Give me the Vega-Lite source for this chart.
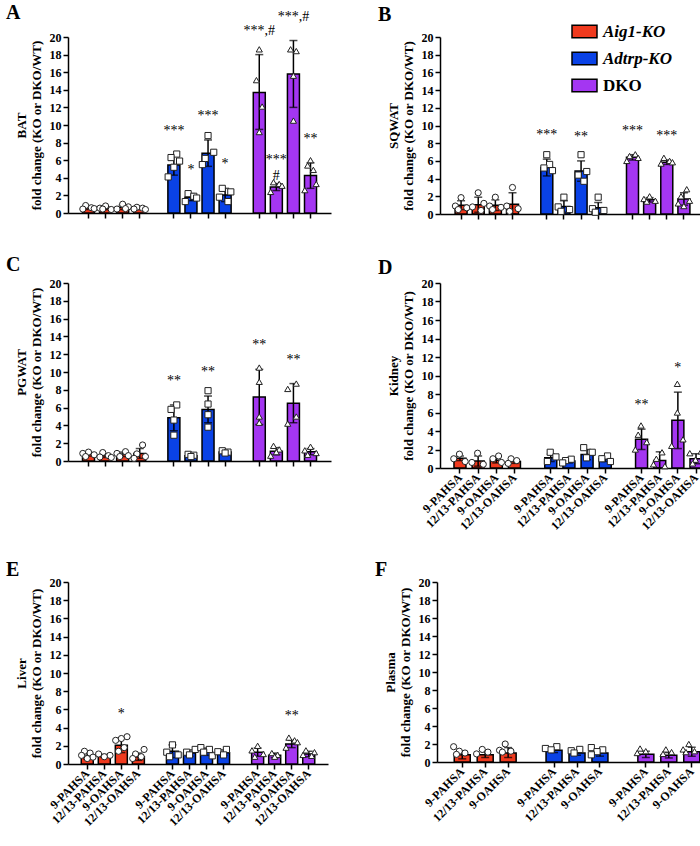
{
"$schema": "https://vega.github.io/schema/vega-lite/v6.json",
"background": "white",
"padding": {"left": 6, "top": 2, "right": 0, "bottom": 0},
"autosize": {"type": "pad"},
"datasets": {
"bars": [
{"p":"A","g":"Aig1-KO","k":"Aig1-KO|9-PAHSA","m":0.6,"lo":0.4,"hi":0.8,"sig":""},
{"p":"A","g":"Aig1-KO","k":"Aig1-KO|12/13-PAHSA","m":0.55,"lo":0.38,"hi":0.72,"sig":""},
{"p":"A","g":"Aig1-KO","k":"Aig1-KO|9-OAHSA","m":0.65,"lo":0.4,"hi":0.9,"sig":""},
{"p":"A","g":"Aig1-KO","k":"Aig1-KO|12/13-OAHSA","m":0.5,"lo":0.4,"hi":0.6,"sig":""},
{"p":"A","g":"Adtrp-KO","k":"Adtrp-KO|9-PAHSA","m":5.45,"lo":4.3,"hi":6.6,"sig":"***"},
{"p":"A","g":"Adtrp-KO","k":"Adtrp-KO|12/13-PAHSA","m":1.8,"lo":1.4,"hi":2.2,"sig":"*"},
{"p":"A","g":"Adtrp-KO","k":"Adtrp-KO|9-OAHSA","m":6.8,"lo":5.3,"hi":8.3,"sig":"***"},
{"p":"A","g":"Adtrp-KO","k":"Adtrp-KO|12/13-OAHSA","m":2.05,"lo":1.3,"hi":2.8,"sig":"*"},
{"p":"A","g":"DKO","k":"DKO|9-PAHSA","m":13.7,"lo":9.5,"hi":18.0,"sig":"***,#"},
{"p":"A","g":"DKO","k":"DKO|12/13-PAHSA","m":2.95,"lo":2.55,"hi":3.35,"sig":"***\n#"},
{"p":"A","g":"DKO","k":"DKO|9-OAHSA","m":15.8,"lo":12.0,"hi":19.6,"sig":"***,#"},
{"p":"A","g":"DKO","k":"DKO|12/13-OAHSA","m":4.25,"lo":2.8,"hi":5.7,"sig":"**"},
{"p":"B","g":"Aig1-KO","k":"Aig1-KO|9-PAHSA","m":1.0,"lo":0.5,"hi":1.5,"sig":""},
{"p":"B","g":"Aig1-KO","k":"Aig1-KO|12/13-PAHSA","m":1.05,"lo":0.2,"hi":1.9,"sig":""},
{"p":"B","g":"Aig1-KO","k":"Aig1-KO|9-OAHSA","m":1.0,"lo":0.4,"hi":1.6,"sig":""},
{"p":"B","g":"Aig1-KO","k":"Aig1-KO|12/13-OAHSA","m":1.1,"lo":0.0,"hi":2.4,"sig":""},
{"p":"B","g":"Adtrp-KO","k":"Adtrp-KO|9-PAHSA","m":5.25,"lo":4.3,"hi":6.2,"sig":"***"},
{"p":"B","g":"Adtrp-KO","k":"Adtrp-KO|12/13-PAHSA","m":0.85,"lo":0.2,"hi":1.5,"sig":""},
{"p":"B","g":"Adtrp-KO","k":"Adtrp-KO|9-OAHSA","m":4.85,"lo":3.7,"hi":6.0,"sig":"**"},
{"p":"B","g":"Adtrp-KO","k":"Adtrp-KO|12/13-OAHSA","m":0.7,"lo":0.1,"hi":1.3,"sig":""},
{"p":"B","g":"DKO","k":"DKO|9-PAHSA","m":6.4,"lo":6.1,"hi":6.7,"sig":"***"},
{"p":"B","g":"DKO","k":"DKO|12/13-PAHSA","m":1.6,"lo":1.35,"hi":1.85,"sig":""},
{"p":"B","g":"DKO","k":"DKO|9-OAHSA","m":5.85,"lo":5.6,"hi":6.1,"sig":"***"},
{"p":"B","g":"DKO","k":"DKO|12/13-OAHSA","m":1.7,"lo":1.0,"hi":2.4,"sig":""},
{"p":"C","g":"Aig1-KO","k":"Aig1-KO|9-PAHSA","m":0.75,"lo":0.55,"hi":0.95,"sig":""},
{"p":"C","g":"Aig1-KO","k":"Aig1-KO|12/13-PAHSA","m":0.6,"lo":0.4,"hi":0.8,"sig":""},
{"p":"C","g":"Aig1-KO","k":"Aig1-KO|9-OAHSA","m":0.75,"lo":0.5,"hi":1.0,"sig":""},
{"p":"C","g":"Aig1-KO","k":"Aig1-KO|12/13-OAHSA","m":0.85,"lo":0.3,"hi":1.4,"sig":""},
{"p":"C","g":"Adtrp-KO","k":"Adtrp-KO|9-PAHSA","m":4.85,"lo":3.4,"hi":6.3,"sig":"**"},
{"p":"C","g":"Adtrp-KO","k":"Adtrp-KO|12/13-PAHSA","m":0.6,"lo":0.45,"hi":0.75,"sig":""},
{"p":"C","g":"Adtrp-KO","k":"Adtrp-KO|9-OAHSA","m":5.8,"lo":4.3,"hi":7.3,"sig":"**"},
{"p":"C","g":"Adtrp-KO","k":"Adtrp-KO|12/13-OAHSA","m":1.0,"lo":0.85,"hi":1.15,"sig":""},
{"p":"C","g":"DKO","k":"DKO|9-PAHSA","m":7.2,"lo":4.1,"hi":10.3,"sig":"**"},
{"p":"C","g":"DKO","k":"DKO|12/13-PAHSA","m":1.1,"lo":0.7,"hi":1.5,"sig":""},
{"p":"C","g":"DKO","k":"DKO|9-OAHSA","m":6.5,"lo":4.3,"hi":8.7,"sig":"**"},
{"p":"C","g":"DKO","k":"DKO|12/13-OAHSA","m":1.05,"lo":0.7,"hi":1.4,"sig":""},
{"p":"D","g":"Aig1-KO","k":"Aig1-KO|9-PAHSA","m":1.05,"lo":0.8,"hi":1.3,"sig":""},
{"p":"D","g":"Aig1-KO","k":"Aig1-KO|12/13-PAHSA","m":0.75,"lo":0.2,"hi":1.3,"sig":""},
{"p":"D","g":"Aig1-KO","k":"Aig1-KO|9-OAHSA","m":0.85,"lo":0.55,"hi":1.15,"sig":""},
{"p":"D","g":"Aig1-KO","k":"Aig1-KO|12/13-OAHSA","m":0.7,"lo":0.5,"hi":0.9,"sig":""},
{"p":"D","g":"Adtrp-KO","k":"Adtrp-KO|9-PAHSA","m":1.1,"lo":0.7,"hi":1.5,"sig":""},
{"p":"D","g":"Adtrp-KO","k":"Adtrp-KO|12/13-PAHSA","m":0.75,"lo":0.55,"hi":0.95,"sig":""},
{"p":"D","g":"Adtrp-KO","k":"Adtrp-KO|9-OAHSA","m":1.45,"lo":0.9,"hi":2.0,"sig":""},
{"p":"D","g":"Adtrp-KO","k":"Adtrp-KO|12/13-OAHSA","m":1.0,"lo":0.7,"hi":1.3,"sig":""},
{"p":"D","g":"DKO","k":"DKO|9-PAHSA","m":3.1,"lo":2.0,"hi":4.2,"sig":"**"},
{"p":"D","g":"DKO","k":"DKO|12/13-PAHSA","m":0.8,"lo":0.0,"hi":1.75,"sig":""},
{"p":"D","g":"DKO","k":"DKO|9-OAHSA","m":5.15,"lo":2.1,"hi":8.2,"sig":"*"},
{"p":"D","g":"DKO","k":"DKO|12/13-OAHSA","m":1.0,"lo":0.45,"hi":1.55,"sig":""},
{"p":"E","g":"Aig1-KO","k":"Aig1-KO|9-PAHSA","m":0.85,"lo":0.55,"hi":1.15,"sig":""},
{"p":"E","g":"Aig1-KO","k":"Aig1-KO|12/13-PAHSA","m":0.9,"lo":0.75,"hi":1.05,"sig":""},
{"p":"E","g":"Aig1-KO","k":"Aig1-KO|9-OAHSA","m":2.05,"lo":1.25,"hi":2.85,"sig":"*"},
{"p":"E","g":"Aig1-KO","k":"Aig1-KO|12/13-OAHSA","m":0.8,"lo":0.4,"hi":1.2,"sig":""},
{"p":"E","g":"Adtrp-KO","k":"Adtrp-KO|9-PAHSA","m":1.4,"lo":0.7,"hi":2.1,"sig":""},
{"p":"E","g":"Adtrp-KO","k":"Adtrp-KO|12/13-PAHSA","m":1.2,"lo":0.85,"hi":1.55,"sig":""},
{"p":"E","g":"Adtrp-KO","k":"Adtrp-KO|9-OAHSA","m":1.35,"lo":0.95,"hi":1.75,"sig":""},
{"p":"E","g":"Adtrp-KO","k":"Adtrp-KO|12/13-OAHSA","m":1.25,"lo":0.95,"hi":1.55,"sig":""},
{"p":"E","g":"DKO","k":"DKO|9-PAHSA","m":1.3,"lo":0.85,"hi":1.75,"sig":""},
{"p":"E","g":"DKO","k":"DKO|12/13-PAHSA","m":0.95,"lo":0.7,"hi":1.2,"sig":""},
{"p":"E","g":"DKO","k":"DKO|9-OAHSA","m":2.2,"lo":1.8,"hi":2.6,"sig":"**"},
{"p":"E","g":"DKO","k":"DKO|12/13-OAHSA","m":1.1,"lo":0.8,"hi":1.4,"sig":""},
{"p":"F","g":"Aig1-KO","k":"Aig1-KO|9-PAHSA","m":0.8,"lo":0.35,"hi":1.25,"sig":""},
{"p":"F","g":"Aig1-KO","k":"Aig1-KO|12/13-PAHSA","m":0.8,"lo":0.5,"hi":1.1,"sig":""},
{"p":"F","g":"Aig1-KO","k":"Aig1-KO|9-OAHSA","m":1.0,"lo":0.5,"hi":1.6,"sig":""},
{"p":"F","g":"Adtrp-KO","k":"Adtrp-KO|9-PAHSA","m":1.3,"lo":1.05,"hi":1.55,"sig":""},
{"p":"F","g":"Adtrp-KO","k":"Adtrp-KO|12/13-PAHSA","m":1.0,"lo":0.75,"hi":1.25,"sig":""},
{"p":"F","g":"Adtrp-KO","k":"Adtrp-KO|9-OAHSA","m":1.0,"lo":0.65,"hi":1.35,"sig":""},
{"p":"F","g":"DKO","k":"DKO|9-PAHSA","m":0.85,"lo":0.5,"hi":1.2,"sig":""},
{"p":"F","g":"DKO","k":"DKO|12/13-PAHSA","m":0.75,"lo":0.45,"hi":1.05,"sig":""},
{"p":"F","g":"DKO","k":"DKO|9-OAHSA","m":1.15,"lo":0.65,"hi":1.65,"sig":""}
],
"pts": [
{"p":"A","g":"Aig1-KO","k":"Aig1-KO|9-PAHSA","r":2,"v":0.85},{"p":"A","g":"Aig1-KO","k":"Aig1-KO|9-PAHSA","r":4,"v":0.6},{"p":"A","g":"Aig1-KO","k":"Aig1-KO|9-PAHSA","r":1,"v":0.45},{"p":"A","g":"Aig1-KO","k":"Aig1-KO|9-PAHSA","r":5,"v":0.5},
{"p":"A","g":"Aig1-KO","k":"Aig1-KO|12/13-PAHSA","r":3,"v":0.8},{"p":"A","g":"Aig1-KO","k":"Aig1-KO|12/13-PAHSA","r":1,"v":0.55},{"p":"A","g":"Aig1-KO","k":"Aig1-KO|12/13-PAHSA","r":5,"v":0.4},{"p":"A","g":"Aig1-KO","k":"Aig1-KO|12/13-PAHSA","r":2,"v":0.45},
{"p":"A","g":"Aig1-KO","k":"Aig1-KO|9-OAHSA","r":3,"v":1.0},{"p":"A","g":"Aig1-KO","k":"Aig1-KO|9-OAHSA","r":5,"v":0.7},{"p":"A","g":"Aig1-KO","k":"Aig1-KO|9-OAHSA","r":1,"v":0.45},{"p":"A","g":"Aig1-KO","k":"Aig1-KO|9-OAHSA","r":4,"v":0.5},
{"p":"A","g":"Aig1-KO","k":"Aig1-KO|12/13-OAHSA","r":2,"v":0.65},{"p":"A","g":"Aig1-KO","k":"Aig1-KO|12/13-OAHSA","r":4,"v":0.55},{"p":"A","g":"Aig1-KO","k":"Aig1-KO|12/13-OAHSA","r":1,"v":0.45},{"p":"A","g":"Aig1-KO","k":"Aig1-KO|12/13-OAHSA","r":5,"v":0.4},
{"p":"A","g":"Adtrp-KO","k":"Adtrp-KO|9-PAHSA","r":4,"v":6.7},{"p":"A","g":"Adtrp-KO","k":"Adtrp-KO|9-PAHSA","r":2,"v":6.3},{"p":"A","g":"Adtrp-KO","k":"Adtrp-KO|9-PAHSA","r":5,"v":5.9},{"p":"A","g":"Adtrp-KO","k":"Adtrp-KO|9-PAHSA","r":3,"v":5.2},{"p":"A","g":"Adtrp-KO","k":"Adtrp-KO|9-PAHSA","r":1,"v":4.1},
{"p":"A","g":"Adtrp-KO","k":"Adtrp-KO|12/13-PAHSA","r":2,"v":2.2},{"p":"A","g":"Adtrp-KO","k":"Adtrp-KO|12/13-PAHSA","r":4,"v":1.9},{"p":"A","g":"Adtrp-KO","k":"Adtrp-KO|12/13-PAHSA","r":5,"v":1.7},{"p":"A","g":"Adtrp-KO","k":"Adtrp-KO|12/13-PAHSA","r":1,"v":1.3},
{"p":"A","g":"Adtrp-KO","k":"Adtrp-KO|9-OAHSA","r":3,"v":8.8},{"p":"A","g":"Adtrp-KO","k":"Adtrp-KO|9-OAHSA","r":5,"v":6.9},{"p":"A","g":"Adtrp-KO","k":"Adtrp-KO|9-OAHSA","r":2,"v":6.2},{"p":"A","g":"Adtrp-KO","k":"Adtrp-KO|9-OAHSA","r":1,"v":5.5},
{"p":"A","g":"Adtrp-KO","k":"Adtrp-KO|12/13-OAHSA","r":2,"v":2.8},{"p":"A","g":"Adtrp-KO","k":"Adtrp-KO|12/13-OAHSA","r":5,"v":2.4},{"p":"A","g":"Adtrp-KO","k":"Adtrp-KO|12/13-OAHSA","r":1,"v":1.8},{"p":"A","g":"Adtrp-KO","k":"Adtrp-KO|12/13-OAHSA","r":4,"v":1.3},
{"p":"A","g":"DKO","k":"DKO|9-PAHSA","r":3,"v":18.6},{"p":"A","g":"DKO","k":"DKO|9-PAHSA","r":2,"v":15.1},{"p":"A","g":"DKO","k":"DKO|9-PAHSA","r":4,"v":12.1},{"p":"A","g":"DKO","k":"DKO|9-PAHSA","r":3,"v":9.2},
{"p":"A","g":"DKO","k":"DKO|12/13-PAHSA","r":2,"v":3.5},{"p":"A","g":"DKO","k":"DKO|12/13-PAHSA","r":4,"v":3.3},{"p":"A","g":"DKO","k":"DKO|12/13-PAHSA","r":5,"v":3.1},{"p":"A","g":"DKO","k":"DKO|12/13-PAHSA","r":1,"v":2.4},
{"p":"A","g":"DKO","k":"DKO|9-OAHSA","r":2,"v":18.6},{"p":"A","g":"DKO","k":"DKO|9-OAHSA","r":4,"v":18.4},{"p":"A","g":"DKO","k":"DKO|9-OAHSA","r":3,"v":15.6},{"p":"A","g":"DKO","k":"DKO|9-OAHSA","r":3,"v":10.5},
{"p":"A","g":"DKO","k":"DKO|12/13-OAHSA","r":3,"v":6.0},{"p":"A","g":"DKO","k":"DKO|12/13-OAHSA","r":2,"v":5.4},{"p":"A","g":"DKO","k":"DKO|12/13-OAHSA","r":4,"v":4.9},{"p":"A","g":"DKO","k":"DKO|12/13-OAHSA","r":5,"v":3.3},{"p":"A","g":"DKO","k":"DKO|12/13-OAHSA","r":1,"v":2.6},
{"p":"B","g":"Aig1-KO","k":"Aig1-KO|9-PAHSA","r":3,"v":1.85},{"p":"B","g":"Aig1-KO","k":"Aig1-KO|9-PAHSA","r":1,"v":0.9},{"p":"B","g":"Aig1-KO","k":"Aig1-KO|9-PAHSA","r":5,"v":0.7},{"p":"B","g":"Aig1-KO","k":"Aig1-KO|9-PAHSA","r":2,"v":0.5},
{"p":"B","g":"Aig1-KO","k":"Aig1-KO|12/13-PAHSA","r":3,"v":2.4},{"p":"B","g":"Aig1-KO","k":"Aig1-KO|12/13-PAHSA","r":5,"v":1.2},{"p":"B","g":"Aig1-KO","k":"Aig1-KO|12/13-PAHSA","r":1,"v":0.8},{"p":"B","g":"Aig1-KO","k":"Aig1-KO|12/13-PAHSA","r":4,"v":0.4},
{"p":"B","g":"Aig1-KO","k":"Aig1-KO|9-OAHSA","r":3,"v":1.9},{"p":"B","g":"Aig1-KO","k":"Aig1-KO|9-OAHSA","r":1,"v":0.9},{"p":"B","g":"Aig1-KO","k":"Aig1-KO|9-OAHSA","r":5,"v":0.75},{"p":"B","g":"Aig1-KO","k":"Aig1-KO|9-OAHSA","r":2,"v":0.5},
{"p":"B","g":"Aig1-KO","k":"Aig1-KO|12/13-OAHSA","r":3,"v":3.0},{"p":"B","g":"Aig1-KO","k":"Aig1-KO|12/13-OAHSA","r":1,"v":0.9},{"p":"B","g":"Aig1-KO","k":"Aig1-KO|12/13-OAHSA","r":5,"v":0.6},{"p":"B","g":"Aig1-KO","k":"Aig1-KO|12/13-OAHSA","r":2,"v":0.3},
{"p":"B","g":"Adtrp-KO","k":"Adtrp-KO|9-PAHSA","r":3,"v":6.7},{"p":"B","g":"Adtrp-KO","k":"Adtrp-KO|9-PAHSA","r":4,"v":5.6},{"p":"B","g":"Adtrp-KO","k":"Adtrp-KO|9-PAHSA","r":2,"v":5.2},{"p":"B","g":"Adtrp-KO","k":"Adtrp-KO|9-PAHSA","r":5,"v":4.9},
{"p":"B","g":"Adtrp-KO","k":"Adtrp-KO|12/13-PAHSA","r":3,"v":1.9},{"p":"B","g":"Adtrp-KO","k":"Adtrp-KO|12/13-PAHSA","r":1,"v":0.8},{"p":"B","g":"Adtrp-KO","k":"Adtrp-KO|12/13-PAHSA","r":5,"v":0.5},{"p":"B","g":"Adtrp-KO","k":"Adtrp-KO|12/13-PAHSA","r":2,"v":0.3},
{"p":"B","g":"Adtrp-KO","k":"Adtrp-KO|9-OAHSA","r":3,"v":6.7},{"p":"B","g":"Adtrp-KO","k":"Adtrp-KO|9-OAHSA","r":5,"v":4.8},{"p":"B","g":"Adtrp-KO","k":"Adtrp-KO|9-OAHSA","r":2,"v":4.4},{"p":"B","g":"Adtrp-KO","k":"Adtrp-KO|9-OAHSA","r":4,"v":3.7},
{"p":"B","g":"Adtrp-KO","k":"Adtrp-KO|12/13-OAHSA","r":3,"v":1.9},{"p":"B","g":"Adtrp-KO","k":"Adtrp-KO|12/13-OAHSA","r":1,"v":0.6},{"p":"B","g":"Adtrp-KO","k":"Adtrp-KO|12/13-OAHSA","r":5,"v":0.4},{"p":"B","g":"Adtrp-KO","k":"Adtrp-KO|12/13-OAHSA","r":2,"v":0.2},
{"p":"B","g":"DKO","k":"DKO|9-PAHSA","r":4,"v":6.75},{"p":"B","g":"DKO","k":"DKO|9-PAHSA","r":2,"v":6.55},{"p":"B","g":"DKO","k":"DKO|9-PAHSA","r":5,"v":6.35},{"p":"B","g":"DKO","k":"DKO|9-PAHSA","r":1,"v":6.0},
{"p":"B","g":"DKO","k":"DKO|12/13-PAHSA","r":3,"v":2.0},{"p":"B","g":"DKO","k":"DKO|12/13-PAHSA","r":1,"v":1.7},{"p":"B","g":"DKO","k":"DKO|12/13-PAHSA","r":5,"v":1.5},{"p":"B","g":"DKO","k":"DKO|12/13-PAHSA","r":2,"v":1.4},
{"p":"B","g":"DKO","k":"DKO|9-OAHSA","r":2,"v":6.35},{"p":"B","g":"DKO","k":"DKO|9-OAHSA","r":4,"v":6.0},{"p":"B","g":"DKO","k":"DKO|9-OAHSA","r":5,"v":5.85},{"p":"B","g":"DKO","k":"DKO|9-OAHSA","r":1,"v":5.7},
{"p":"B","g":"DKO","k":"DKO|12/13-OAHSA","r":4,"v":2.8},{"p":"B","g":"DKO","k":"DKO|12/13-OAHSA","r":2,"v":2.0},{"p":"B","g":"DKO","k":"DKO|12/13-OAHSA","r":5,"v":1.5},{"p":"B","g":"DKO","k":"DKO|12/13-OAHSA","r":1,"v":1.2},{"p":"B","g":"DKO","k":"DKO|12/13-OAHSA","r":3,"v":0.9},
{"p":"C","g":"Aig1-KO","k":"Aig1-KO|9-PAHSA","r":3,"v":1.0},{"p":"C","g":"Aig1-KO","k":"Aig1-KO|9-PAHSA","r":1,"v":0.85},{"p":"C","g":"Aig1-KO","k":"Aig1-KO|9-PAHSA","r":5,"v":0.7},{"p":"C","g":"Aig1-KO","k":"Aig1-KO|9-PAHSA","r":2,"v":0.5},
{"p":"C","g":"Aig1-KO","k":"Aig1-KO|12/13-PAHSA","r":2,"v":0.95},{"p":"C","g":"Aig1-KO","k":"Aig1-KO|12/13-PAHSA","r":4,"v":0.6},{"p":"C","g":"Aig1-KO","k":"Aig1-KO|12/13-PAHSA","r":1,"v":0.45},{"p":"C","g":"Aig1-KO","k":"Aig1-KO|12/13-PAHSA","r":5,"v":0.4},
{"p":"C","g":"Aig1-KO","k":"Aig1-KO|9-OAHSA","r":4,"v":1.05},{"p":"C","g":"Aig1-KO","k":"Aig1-KO|9-OAHSA","r":1,"v":0.85},{"p":"C","g":"Aig1-KO","k":"Aig1-KO|9-OAHSA","r":5,"v":0.6},{"p":"C","g":"Aig1-KO","k":"Aig1-KO|9-OAHSA","r":2,"v":0.5},
{"p":"C","g":"Aig1-KO","k":"Aig1-KO|12/13-OAHSA","r":4,"v":1.8},{"p":"C","g":"Aig1-KO","k":"Aig1-KO|12/13-OAHSA","r":2,"v":0.8},{"p":"C","g":"Aig1-KO","k":"Aig1-KO|12/13-OAHSA","r":5,"v":0.5},{"p":"C","g":"Aig1-KO","k":"Aig1-KO|12/13-OAHSA","r":1,"v":0.3},
{"p":"C","g":"Adtrp-KO","k":"Adtrp-KO|9-PAHSA","r":4,"v":6.3},{"p":"C","g":"Adtrp-KO","k":"Adtrp-KO|9-PAHSA","r":2,"v":5.8},{"p":"C","g":"Adtrp-KO","k":"Adtrp-KO|9-PAHSA","r":3,"v":4.6},{"p":"C","g":"Adtrp-KO","k":"Adtrp-KO|9-PAHSA","r":3,"v":2.9},
{"p":"C","g":"Adtrp-KO","k":"Adtrp-KO|12/13-PAHSA","r":2,"v":0.75},{"p":"C","g":"Adtrp-KO","k":"Adtrp-KO|12/13-PAHSA","r":4,"v":0.65},{"p":"C","g":"Adtrp-KO","k":"Adtrp-KO|12/13-PAHSA","r":3,"v":0.5},
{"p":"C","g":"Adtrp-KO","k":"Adtrp-KO|9-OAHSA","r":3,"v":7.9},{"p":"C","g":"Adtrp-KO","k":"Adtrp-KO|9-OAHSA","r":3,"v":6.4},{"p":"C","g":"Adtrp-KO","k":"Adtrp-KO|9-OAHSA","r":3,"v":5.2},{"p":"C","g":"Adtrp-KO","k":"Adtrp-KO|9-OAHSA","r":3,"v":3.8},
{"p":"C","g":"Adtrp-KO","k":"Adtrp-KO|12/13-OAHSA","r":2,"v":1.15},{"p":"C","g":"Adtrp-KO","k":"Adtrp-KO|12/13-OAHSA","r":4,"v":1.0},{"p":"C","g":"Adtrp-KO","k":"Adtrp-KO|12/13-OAHSA","r":3,"v":0.9},
{"p":"C","g":"DKO","k":"DKO|9-PAHSA","r":3,"v":10.5},{"p":"C","g":"DKO","k":"DKO|9-PAHSA","r":3,"v":8.9},{"p":"C","g":"DKO","k":"DKO|9-PAHSA","r":3,"v":5.0},{"p":"C","g":"DKO","k":"DKO|9-PAHSA","r":3,"v":4.3},
{"p":"C","g":"DKO","k":"DKO|12/13-PAHSA","r":2,"v":1.7},{"p":"C","g":"DKO","k":"DKO|12/13-PAHSA","r":4,"v":1.3},{"p":"C","g":"DKO","k":"DKO|12/13-PAHSA","r":3,"v":1.0},{"p":"C","g":"DKO","k":"DKO|12/13-PAHSA","r":1,"v":0.6},
{"p":"C","g":"DKO","k":"DKO|9-OAHSA","r":4,"v":8.7},{"p":"C","g":"DKO","k":"DKO|9-OAHSA","r":1,"v":8.1},{"p":"C","g":"DKO","k":"DKO|9-OAHSA","r":4,"v":5.0},{"p":"C","g":"DKO","k":"DKO|9-OAHSA","r":1,"v":4.2},
{"p":"C","g":"DKO","k":"DKO|12/13-OAHSA","r":3,"v":1.6},{"p":"C","g":"DKO","k":"DKO|12/13-OAHSA","r":1,"v":1.2},{"p":"C","g":"DKO","k":"DKO|12/13-OAHSA","r":5,"v":0.9},{"p":"C","g":"DKO","k":"DKO|12/13-OAHSA","r":2,"v":0.7},
{"p":"D","g":"Aig1-KO","k":"Aig1-KO|9-PAHSA","r":3,"v":1.5},{"p":"D","g":"Aig1-KO","k":"Aig1-KO|9-PAHSA","r":1,"v":1.0},{"p":"D","g":"Aig1-KO","k":"Aig1-KO|9-PAHSA","r":5,"v":0.7},
{"p":"D","g":"Aig1-KO","k":"Aig1-KO|12/13-PAHSA","r":3,"v":1.6},{"p":"D","g":"Aig1-KO","k":"Aig1-KO|12/13-PAHSA","r":1,"v":0.6},{"p":"D","g":"Aig1-KO","k":"Aig1-KO|12/13-PAHSA","r":5,"v":0.4},
{"p":"D","g":"Aig1-KO","k":"Aig1-KO|9-OAHSA","r":4,"v":1.3},{"p":"D","g":"Aig1-KO","k":"Aig1-KO|9-OAHSA","r":2,"v":1.0},{"p":"D","g":"Aig1-KO","k":"Aig1-KO|9-OAHSA","r":5,"v":0.6},
{"p":"D","g":"Aig1-KO","k":"Aig1-KO|12/13-OAHSA","r":2,"v":1.0},{"p":"D","g":"Aig1-KO","k":"Aig1-KO|12/13-OAHSA","r":4,"v":0.8},{"p":"D","g":"Aig1-KO","k":"Aig1-KO|12/13-OAHSA","r":1,"v":0.5},
{"p":"D","g":"Adtrp-KO","k":"Adtrp-KO|9-PAHSA","r":3,"v":1.7},{"p":"D","g":"Adtrp-KO","k":"Adtrp-KO|9-PAHSA","r":5,"v":1.2},{"p":"D","g":"Adtrp-KO","k":"Adtrp-KO|9-PAHSA","r":2,"v":0.7},
{"p":"D","g":"Adtrp-KO","k":"Adtrp-KO|12/13-PAHSA","r":4,"v":0.95},{"p":"D","g":"Adtrp-KO","k":"Adtrp-KO|12/13-PAHSA","r":2,"v":0.8},{"p":"D","g":"Adtrp-KO","k":"Adtrp-KO|12/13-PAHSA","r":1,"v":0.55},
{"p":"D","g":"Adtrp-KO","k":"Adtrp-KO|9-OAHSA","r":2,"v":2.2},{"p":"D","g":"Adtrp-KO","k":"Adtrp-KO|9-OAHSA","r":5,"v":1.7},{"p":"D","g":"Adtrp-KO","k":"Adtrp-KO|9-OAHSA","r":3,"v":1.1},
{"p":"D","g":"Adtrp-KO","k":"Adtrp-KO|12/13-OAHSA","r":4,"v":1.3},{"p":"D","g":"Adtrp-KO","k":"Adtrp-KO|12/13-OAHSA","r":2,"v":1.0},{"p":"D","g":"Adtrp-KO","k":"Adtrp-KO|12/13-OAHSA","r":5,"v":0.7},
{"p":"D","g":"DKO","k":"DKO|9-PAHSA","r":3,"v":4.6},{"p":"D","g":"DKO","k":"DKO|9-PAHSA","r":2,"v":3.6},{"p":"D","g":"DKO","k":"DKO|9-PAHSA","r":5,"v":2.8},{"p":"D","g":"DKO","k":"DKO|9-PAHSA","r":1,"v":2.0},
{"p":"D","g":"DKO","k":"DKO|12/13-PAHSA","r":4,"v":1.7},{"p":"D","g":"DKO","k":"DKO|12/13-PAHSA","r":2,"v":1.0},{"p":"D","g":"DKO","k":"DKO|12/13-PAHSA","r":1,"v":0.4},{"p":"D","g":"DKO","k":"DKO|12/13-PAHSA","r":5,"v":0.2},
{"p":"D","g":"DKO","k":"DKO|9-OAHSA","r":3,"v":9.1},{"p":"D","g":"DKO","k":"DKO|9-OAHSA","r":3,"v":6.0},{"p":"D","g":"DKO","k":"DKO|9-OAHSA","r":5,"v":3.1},{"p":"D","g":"DKO","k":"DKO|9-OAHSA","r":1,"v":2.4},
{"p":"D","g":"DKO","k":"DKO|12/13-OAHSA","r":5,"v":1.8},{"p":"D","g":"DKO","k":"DKO|12/13-OAHSA","r":1,"v":1.6},{"p":"D","g":"DKO","k":"DKO|12/13-OAHSA","r":3,"v":0.9},{"p":"D","g":"DKO","k":"DKO|12/13-OAHSA","r":2,"v":0.5},
{"p":"E","g":"Aig1-KO","k":"Aig1-KO|9-PAHSA","r":2,"v":1.4},{"p":"E","g":"Aig1-KO","k":"Aig1-KO|9-PAHSA","r":4,"v":1.2},{"p":"E","g":"Aig1-KO","k":"Aig1-KO|9-PAHSA","r":1,"v":0.95},{"p":"E","g":"Aig1-KO","k":"Aig1-KO|9-PAHSA","r":5,"v":0.75},{"p":"E","g":"Aig1-KO","k":"Aig1-KO|9-PAHSA","r":3,"v":0.6},
{"p":"E","g":"Aig1-KO","k":"Aig1-KO|12/13-PAHSA","r":1,"v":1.1},{"p":"E","g":"Aig1-KO","k":"Aig1-KO|12/13-PAHSA","r":5,"v":0.95},{"p":"E","g":"Aig1-KO","k":"Aig1-KO|12/13-PAHSA","r":3,"v":0.8},
{"p":"E","g":"Aig1-KO","k":"Aig1-KO|9-OAHSA","r":5,"v":3.0},{"p":"E","g":"Aig1-KO","k":"Aig1-KO|9-OAHSA","r":3,"v":2.8},{"p":"E","g":"Aig1-KO","k":"Aig1-KO|9-OAHSA","r":1,"v":2.6},{"p":"E","g":"Aig1-KO","k":"Aig1-KO|9-OAHSA","r":4,"v":1.8},{"p":"E","g":"Aig1-KO","k":"Aig1-KO|9-OAHSA","r":2,"v":1.4},
{"p":"E","g":"Aig1-KO","k":"Aig1-KO|12/13-OAHSA","r":5,"v":1.6},{"p":"E","g":"Aig1-KO","k":"Aig1-KO|12/13-OAHSA","r":2,"v":1.1},{"p":"E","g":"Aig1-KO","k":"Aig1-KO|12/13-OAHSA","r":4,"v":0.8},{"p":"E","g":"Aig1-KO","k":"Aig1-KO|12/13-OAHSA","r":1,"v":0.6},
{"p":"E","g":"Adtrp-KO","k":"Adtrp-KO|9-PAHSA","r":3,"v":2.1},{"p":"E","g":"Adtrp-KO","k":"Adtrp-KO|9-PAHSA","r":1,"v":1.3},{"p":"E","g":"Adtrp-KO","k":"Adtrp-KO|9-PAHSA","r":5,"v":1.0},{"p":"E","g":"Adtrp-KO","k":"Adtrp-KO|9-PAHSA","r":2,"v":0.8},
{"p":"E","g":"Adtrp-KO","k":"Adtrp-KO|12/13-PAHSA","r":5,"v":1.6},{"p":"E","g":"Adtrp-KO","k":"Adtrp-KO|12/13-PAHSA","r":2,"v":1.3},{"p":"E","g":"Adtrp-KO","k":"Adtrp-KO|12/13-PAHSA","r":3,"v":1.0},
{"p":"E","g":"Adtrp-KO","k":"Adtrp-KO|9-OAHSA","r":1,"v":1.8},{"p":"E","g":"Adtrp-KO","k":"Adtrp-KO|9-OAHSA","r":4,"v":1.6},{"p":"E","g":"Adtrp-KO","k":"Adtrp-KO|9-OAHSA","r":2,"v":1.3},{"p":"E","g":"Adtrp-KO","k":"Adtrp-KO|9-OAHSA","r":5,"v":0.9},
{"p":"E","g":"Adtrp-KO","k":"Adtrp-KO|12/13-OAHSA","r":4,"v":1.6},{"p":"E","g":"Adtrp-KO","k":"Adtrp-KO|12/13-OAHSA","r":1,"v":1.35},{"p":"E","g":"Adtrp-KO","k":"Adtrp-KO|12/13-OAHSA","r":3,"v":1.0},
{"p":"E","g":"DKO","k":"DKO|9-PAHSA","r":3,"v":2.0},{"p":"E","g":"DKO","k":"DKO|9-PAHSA","r":1,"v":1.5},{"p":"E","g":"DKO","k":"DKO|9-PAHSA","r":5,"v":1.1},{"p":"E","g":"DKO","k":"DKO|9-PAHSA","r":2,"v":0.8},
{"p":"E","g":"DKO","k":"DKO|12/13-PAHSA","r":2,"v":1.2},{"p":"E","g":"DKO","k":"DKO|12/13-PAHSA","r":4,"v":1.0},{"p":"E","g":"DKO","k":"DKO|12/13-PAHSA","r":3,"v":0.8},
{"p":"E","g":"DKO","k":"DKO|9-OAHSA","r":2,"v":2.9},{"p":"E","g":"DKO","k":"DKO|9-OAHSA","r":4,"v":2.6},{"p":"E","g":"DKO","k":"DKO|9-OAHSA","r":5,"v":2.4},{"p":"E","g":"DKO","k":"DKO|9-OAHSA","r":1,"v":1.8},
{"p":"E","g":"DKO","k":"DKO|12/13-OAHSA","r":2,"v":1.5},{"p":"E","g":"DKO","k":"DKO|12/13-OAHSA","r":5,"v":1.3},{"p":"E","g":"DKO","k":"DKO|12/13-OAHSA","r":1,"v":1.0},{"p":"E","g":"DKO","k":"DKO|12/13-OAHSA","r":4,"v":0.9},
{"p":"F","g":"Aig1-KO","k":"Aig1-KO|9-PAHSA","r":1,"v":1.7},{"p":"F","g":"Aig1-KO","k":"Aig1-KO|9-PAHSA","r":3,"v":1.2},{"p":"F","g":"Aig1-KO","k":"Aig1-KO|9-PAHSA","r":5,"v":1.0},{"p":"F","g":"Aig1-KO","k":"Aig1-KO|9-PAHSA","r":2,"v":0.85},
{"p":"F","g":"Aig1-KO","k":"Aig1-KO|12/13-PAHSA","r":3,"v":1.4},{"p":"F","g":"Aig1-KO","k":"Aig1-KO|12/13-PAHSA","r":5,"v":1.1},{"p":"F","g":"Aig1-KO","k":"Aig1-KO|12/13-PAHSA","r":1,"v":0.9},
{"p":"F","g":"Aig1-KO","k":"Aig1-KO|9-OAHSA","r":3,"v":2.0},{"p":"F","g":"Aig1-KO","k":"Aig1-KO|9-OAHSA","r":1,"v":1.3},{"p":"F","g":"Aig1-KO","k":"Aig1-KO|9-OAHSA","r":5,"v":1.2},{"p":"F","g":"Aig1-KO","k":"Aig1-KO|9-OAHSA","r":2,"v":1.1},
{"p":"F","g":"Adtrp-KO","k":"Adtrp-KO|9-PAHSA","r":5,"v":1.7},{"p":"F","g":"Adtrp-KO","k":"Adtrp-KO|9-PAHSA","r":1,"v":1.5},{"p":"F","g":"Adtrp-KO","k":"Adtrp-KO|9-PAHSA","r":3,"v":1.35},
{"p":"F","g":"Adtrp-KO","k":"Adtrp-KO|12/13-PAHSA","r":5,"v":1.4},{"p":"F","g":"Adtrp-KO","k":"Adtrp-KO|12/13-PAHSA","r":2,"v":1.25},{"p":"F","g":"Adtrp-KO","k":"Adtrp-KO|12/13-PAHSA","r":3,"v":1.0},
{"p":"F","g":"Adtrp-KO","k":"Adtrp-KO|9-OAHSA","r":1,"v":1.6},{"p":"F","g":"Adtrp-KO","k":"Adtrp-KO|9-OAHSA","r":5,"v":1.35},{"p":"F","g":"Adtrp-KO","k":"Adtrp-KO|9-OAHSA","r":3,"v":1.15},{"p":"F","g":"Adtrp-KO","k":"Adtrp-KO|9-OAHSA","r":1,"v":0.8},
{"p":"F","g":"DKO","k":"DKO|9-PAHSA","r":2,"v":1.5},{"p":"F","g":"DKO","k":"DKO|9-PAHSA","r":4,"v":1.2},{"p":"F","g":"DKO","k":"DKO|9-PAHSA","r":1,"v":1.0},
{"p":"F","g":"DKO","k":"DKO|12/13-PAHSA","r":3,"v":1.4},{"p":"F","g":"DKO","k":"DKO|12/13-PAHSA","r":5,"v":1.1},{"p":"F","g":"DKO","k":"DKO|12/13-PAHSA","r":2,"v":0.9},
{"p":"F","g":"DKO","k":"DKO|9-OAHSA","r":3,"v":2.0},{"p":"F","g":"DKO","k":"DKO|9-OAHSA","r":1,"v":1.4},{"p":"F","g":"DKO","k":"DKO|9-OAHSA","r":5,"v":1.2},{"p":"F","g":"DKO","k":"DKO|9-OAHSA","r":2,"v":1.1}
]
},
"config": {
"view": {"stroke": null},
"font": "Liberation Serif",
"axis": {"grid": false, "domainColor": "black", "domainWidth": 1.5, "tickColor": "black", "tickWidth": 1.5, "tickSize": 5, "labelColor": "black", "labelFont": "Liberation Serif", "labelFontWeight": "bold", "labelFontSize": 12, "titleFont": "Liberation Serif", "titleFontWeight": "bold", "titleFontSize": 13, "titleColor": "black"},
"axisY": {"tickCount": 10, "titlePadding": 6, "labelPadding": 2},
"axisX": {"labelPadding": 2},
"point": {"filled": true, "fill": "white", "stroke": "#222", "strokeWidth": 1, "size": 38, "opacity": 1},
"bar": {"stroke": "black", "strokeWidth": 1.5, "width": 12},
"text": {"baseline": "bottom", "dy": -17, "fontSize": 14, "lineBreak": "\n", "fill": "black", "font": "Liberation Serif"},
"title": {"font": "Liberation Serif", "fontSize": 20, "fontWeight": "bold", "color": "black", "anchor": "start", "frame": "group", "dx": -62},
"legend": {"title": null, "orient": "none", "legendX": 508, "legendY": -14, "padding": 0, "symbolType": "M-2,-1H2V1H-2Z", "symbolSize": 156, "symbolStrokeColor": "black", "symbolStrokeWidth": 1.5, "symbolOpacity": 1, "labelFont": "Liberation Serif", "labelFontSize": 17, "labelFontWeight": "bold", "labelColor": "black", "labelOffset": 10, "rowPadding": 8}
},
"vconcat": [
{"vconcat": [
{"hconcat": [
{"width": 263, "height": 176, "title": {"text": "A", "offset": -13},
 "encoding": {"x": {"field": "k", "type": "nominal", "title": null, "scale": {"type": "band", "domain": ["Aig1-KO|9-PAHSA","Aig1-KO|12/13-PAHSA","Aig1-KO|9-OAHSA","Aig1-KO|12/13-OAHSA","gap1","Adtrp-KO|9-PAHSA","Adtrp-KO|12/13-PAHSA","Adtrp-KO|9-OAHSA","Adtrp-KO|12/13-OAHSA","gap2","DKO|9-PAHSA","DKO|12/13-PAHSA","DKO|9-OAHSA","DKO|12/13-OAHSA"], "paddingInner": 0, "paddingOuter": 0.7}, "axis": {"labels": false, "tickOpacity": {"condition": {"test": "indexof(datum.value, '|') < 0", "value": 0}, "value": 1}}},
  "y": {"type": "quantitative", "scale": {"domain": [0, 20], "nice": false}, "title": ["BAT", "fold change (KO or DKO/WT)"]}},
 "layer": [
  {"data": {"name": "bars"}, "transform": [{"filter": "datum.p === 'A'"}], "mark": "bar", "encoding": {"y": {"field": "m", "type": "quantitative"}, "fill": {"field": "g", "type": "nominal", "scale": {"domain": ["Aig1-KO","Adtrp-KO","DKO"], "range": ["#f03a1e","#0a42e6","#a436f2"]}, "legend": {"labelFontStyle": {"expr": "datum.label === 'DKO' ? 'normal' : 'italic'"}, "encode": {"labels": {"update": {"fontStyle": {"signal": "datum.label === 'DKO' ? 'normal' : 'italic'"}}}}}}}},
  {"data": {"name": "bars"}, "transform": [{"filter": "datum.p === 'A'"}], "mark": {"type": "errorbar", "color": "black", "thickness": 1.5, "ticks": {"size": 8}}, "encoding": {"y": {"field": "lo", "type": "quantitative"}, "y2": {"field": "hi"}}},
  {"data": {"name": "pts"}, "transform": [{"filter": "datum.p === 'A' && datum.g === 'Aig1-KO'"}], "mark": {"type": "point", "shape": "circle"}, "encoding": {"xOffset": {"field": "r", "type": "nominal", "scale": {"domain": [1,2,3,4,5], "paddingOuter": 1.5}}, "y": {"field": "v", "type": "quantitative"}}},
  {"data": {"name": "pts"}, "transform": [{"filter": "datum.p === 'A' && datum.g === 'Adtrp-KO'"}], "mark": {"type": "point", "shape": "square"}, "encoding": {"xOffset": {"field": "r", "type": "nominal", "scale": {"domain": [1,2,3,4,5], "paddingOuter": 1.5}}, "y": {"field": "v", "type": "quantitative"}}},
  {"data": {"name": "pts"}, "transform": [{"filter": "datum.p === 'A' && datum.g === 'DKO'"}], "mark": {"type": "point", "shape": "triangle-up"}, "encoding": {"xOffset": {"field": "r", "type": "nominal", "scale": {"domain": [1,2,3,4,5], "paddingOuter": 1.5}}, "y": {"field": "v", "type": "quantitative"}}},
  {"data": {"name": "bars"}, "transform": [{"filter": "datum.p === 'A'"}], "mark": "text", "encoding": {"y": {"field": "hi", "type": "quantitative"}, "text": {"field": "sig"}}}
 ]},
{"width": 265, "height": 177, "title": {"text": "B", "offset": 6},
 "encoding": {"x": {"field": "k", "type": "nominal", "title": null, "scale": {"type": "band", "domain": ["Aig1-KO|9-PAHSA","Aig1-KO|12/13-PAHSA","Aig1-KO|9-OAHSA","Aig1-KO|12/13-OAHSA","gap1","Adtrp-KO|9-PAHSA","Adtrp-KO|12/13-PAHSA","Adtrp-KO|9-OAHSA","Adtrp-KO|12/13-OAHSA","gap2","DKO|9-PAHSA","DKO|12/13-PAHSA","DKO|9-OAHSA","DKO|12/13-OAHSA"], "paddingInner": 0, "paddingOuter": 0.73}, "axis": {"labels": false, "tickOpacity": {"condition": {"test": "indexof(datum.value, '|') < 0", "value": 0}, "value": 1}}},
  "y": {"type": "quantitative", "scale": {"domain": [0, 20], "nice": false}, "title": ["SQWAT", "fold change (KO or DKO/WT)"]}},
 "layer": [
  {"data": {"name": "bars"}, "transform": [{"filter": "datum.p === 'B'"}], "mark": "bar", "encoding": {"y": {"field": "m", "type": "quantitative"}, "fill": {"field": "g", "type": "nominal", "scale": {"domain": ["Aig1-KO","Adtrp-KO","DKO"], "range": ["#f03a1e","#0a42e6","#a436f2"]}, "legend": {"labelFontStyle": {"expr": "datum.label === 'DKO' ? 'normal' : 'italic'"}, "encode": {"labels": {"update": {"fontStyle": {"signal": "datum.label === 'DKO' ? 'normal' : 'italic'"}}}}}}}},
  {"data": {"name": "bars"}, "transform": [{"filter": "datum.p === 'B'"}], "mark": {"type": "errorbar", "color": "black", "thickness": 1.5, "ticks": {"size": 8}}, "encoding": {"y": {"field": "lo", "type": "quantitative"}, "y2": {"field": "hi"}}},
  {"data": {"name": "pts"}, "transform": [{"filter": "datum.p === 'B' && datum.g === 'Aig1-KO'"}], "mark": {"type": "point", "shape": "circle"}, "encoding": {"xOffset": {"field": "r", "type": "nominal", "scale": {"domain": [1,2,3,4,5], "paddingOuter": 1.5}}, "y": {"field": "v", "type": "quantitative"}}},
  {"data": {"name": "pts"}, "transform": [{"filter": "datum.p === 'B' && datum.g === 'Adtrp-KO'"}], "mark": {"type": "point", "shape": "square"}, "encoding": {"xOffset": {"field": "r", "type": "nominal", "scale": {"domain": [1,2,3,4,5], "paddingOuter": 1.5}}, "y": {"field": "v", "type": "quantitative"}}},
  {"data": {"name": "pts"}, "transform": [{"filter": "datum.p === 'B' && datum.g === 'DKO'"}], "mark": {"type": "point", "shape": "triangle-up"}, "encoding": {"xOffset": {"field": "r", "type": "nominal", "scale": {"domain": [1,2,3,4,5], "paddingOuter": 1.5}}, "y": {"field": "v", "type": "quantitative"}}},
  {"data": {"name": "bars"}, "transform": [{"filter": "datum.p === 'B'"}], "mark": "text", "encoding": {"y": {"field": "hi", "type": "quantitative"}, "text": {"field": "sig"}}}
 ]}
], "spacing": 47},
{"hconcat": [
{"width": 263, "height": 178, "title": {"text": "C", "offset": 2},
 "encoding": {"x": {"field": "k", "type": "nominal", "title": null, "scale": {"type": "band", "domain": ["Aig1-KO|9-PAHSA","Aig1-KO|12/13-PAHSA","Aig1-KO|9-OAHSA","Aig1-KO|12/13-OAHSA","gap1","Adtrp-KO|9-PAHSA","Adtrp-KO|12/13-PAHSA","Adtrp-KO|9-OAHSA","Adtrp-KO|12/13-OAHSA","gap2","DKO|9-PAHSA","DKO|12/13-PAHSA","DKO|9-OAHSA","DKO|12/13-OAHSA"], "paddingInner": 0, "paddingOuter": 0.7}, "axis": {"labels": false, "tickOpacity": {"condition": {"test": "indexof(datum.value, '|') < 0", "value": 0}, "value": 1}}},
  "y": {"type": "quantitative", "scale": {"domain": [0, 20], "nice": false}, "title": ["PGWAT", "fold change (KO or DKO/WT)"]}},
 "layer": [
  {"data": {"name": "bars"}, "transform": [{"filter": "datum.p === 'C'"}], "mark": "bar", "encoding": {"y": {"field": "m", "type": "quantitative"}, "fill": {"field": "g", "type": "nominal", "scale": {"domain": ["Aig1-KO","Adtrp-KO","DKO"], "range": ["#f03a1e","#0a42e6","#a436f2"]}, "legend": {"labelFontStyle": {"expr": "datum.label === 'DKO' ? 'normal' : 'italic'"}, "encode": {"labels": {"update": {"fontStyle": {"signal": "datum.label === 'DKO' ? 'normal' : 'italic'"}}}}}}}},
  {"data": {"name": "bars"}, "transform": [{"filter": "datum.p === 'C'"}], "mark": {"type": "errorbar", "color": "black", "thickness": 1.5, "ticks": {"size": 8}}, "encoding": {"y": {"field": "lo", "type": "quantitative"}, "y2": {"field": "hi"}}},
  {"data": {"name": "pts"}, "transform": [{"filter": "datum.p === 'C' && datum.g === 'Aig1-KO'"}], "mark": {"type": "point", "shape": "circle"}, "encoding": {"xOffset": {"field": "r", "type": "nominal", "scale": {"domain": [1,2,3,4,5], "paddingOuter": 1.5}}, "y": {"field": "v", "type": "quantitative"}}},
  {"data": {"name": "pts"}, "transform": [{"filter": "datum.p === 'C' && datum.g === 'Adtrp-KO'"}], "mark": {"type": "point", "shape": "square"}, "encoding": {"xOffset": {"field": "r", "type": "nominal", "scale": {"domain": [1,2,3,4,5], "paddingOuter": 1.5}}, "y": {"field": "v", "type": "quantitative"}}},
  {"data": {"name": "pts"}, "transform": [{"filter": "datum.p === 'C' && datum.g === 'DKO'"}], "mark": {"type": "point", "shape": "triangle-up"}, "encoding": {"xOffset": {"field": "r", "type": "nominal", "scale": {"domain": [1,2,3,4,5], "paddingOuter": 1.5}}, "y": {"field": "v", "type": "quantitative"}}},
  {"data": {"name": "bars"}, "transform": [{"filter": "datum.p === 'C'"}], "mark": "text", "encoding": {"y": {"field": "hi", "type": "quantitative"}, "text": {"field": "sig"}}}
 ]},
{"width": 276, "height": 185, "title": {"text": "D", "offset": -1},
 "encoding": {"x": {"field": "k", "type": "nominal", "title": null, "scale": {"type": "band", "domain": ["Aig1-KO|9-PAHSA","Aig1-KO|12/13-PAHSA","Aig1-KO|9-OAHSA","Aig1-KO|12/13-OAHSA","gap1","Adtrp-KO|9-PAHSA","Adtrp-KO|12/13-PAHSA","Adtrp-KO|9-OAHSA","Adtrp-KO|12/13-OAHSA","gap2","DKO|9-PAHSA","DKO|12/13-PAHSA","DKO|9-OAHSA","DKO|12/13-OAHSA"], "paddingInner": 0, "paddingOuter": 0.6}, "axis": {"labelAngle": -45, "labelAlign": "right", "labelBaseline": "middle", "labelExpr": "indexof(datum.value, '|') < 0 ? '' : split(datum.value, '|')[1]", "tickOpacity": {"condition": {"test": "indexof(datum.value, '|') < 0", "value": 0}, "value": 1}}},
  "y": {"type": "quantitative", "scale": {"domain": [0, 20], "nice": false}, "title": ["Kidney", "fold change (KO or DKO/WT)"]}},
 "layer": [
  {"data": {"name": "bars"}, "transform": [{"filter": "datum.p === 'D'"}], "mark": "bar", "encoding": {"y": {"field": "m", "type": "quantitative"}, "fill": {"field": "g", "type": "nominal", "scale": {"domain": ["Aig1-KO","Adtrp-KO","DKO"], "range": ["#f03a1e","#0a42e6","#a436f2"]}, "legend": {"labelFontStyle": {"expr": "datum.label === 'DKO' ? 'normal' : 'italic'"}, "encode": {"labels": {"update": {"fontStyle": {"signal": "datum.label === 'DKO' ? 'normal' : 'italic'"}}}}}}}},
  {"data": {"name": "bars"}, "transform": [{"filter": "datum.p === 'D'"}], "mark": {"type": "errorbar", "color": "black", "thickness": 1.5, "ticks": {"size": 8}}, "encoding": {"y": {"field": "lo", "type": "quantitative"}, "y2": {"field": "hi"}}},
  {"data": {"name": "pts"}, "transform": [{"filter": "datum.p === 'D' && datum.g === 'Aig1-KO'"}], "mark": {"type": "point", "shape": "circle"}, "encoding": {"xOffset": {"field": "r", "type": "nominal", "scale": {"domain": [1,2,3,4,5], "paddingOuter": 1.5}}, "y": {"field": "v", "type": "quantitative"}}},
  {"data": {"name": "pts"}, "transform": [{"filter": "datum.p === 'D' && datum.g === 'Adtrp-KO'"}], "mark": {"type": "point", "shape": "square"}, "encoding": {"xOffset": {"field": "r", "type": "nominal", "scale": {"domain": [1,2,3,4,5], "paddingOuter": 1.5}}, "y": {"field": "v", "type": "quantitative"}}},
  {"data": {"name": "pts"}, "transform": [{"filter": "datum.p === 'D' && datum.g === 'DKO'"}], "mark": {"type": "point", "shape": "triangle-up"}, "encoding": {"xOffset": {"field": "r", "type": "nominal", "scale": {"domain": [1,2,3,4,5], "paddingOuter": 1.5}}, "y": {"field": "v", "type": "quantitative"}}},
  {"data": {"name": "bars"}, "transform": [{"filter": "datum.p === 'D'"}], "mark": "text", "encoding": {"y": {"field": "hi", "type": "quantitative"}, "text": {"field": "sig"}}}
 ]}
], "spacing": 47}
], "spacing": 35},
{"hconcat": [
{"width": 260, "height": 182, "title": {"text": "E", "offset": -4},
 "encoding": {"x": {"field": "k", "type": "nominal", "title": null, "scale": {"type": "band", "domain": ["Aig1-KO|9-PAHSA","Aig1-KO|12/13-PAHSA","Aig1-KO|9-OAHSA","Aig1-KO|12/13-OAHSA","gap1","Adtrp-KO|9-PAHSA","Adtrp-KO|12/13-PAHSA","Adtrp-KO|9-OAHSA","Adtrp-KO|12/13-OAHSA","gap2","DKO|9-PAHSA","DKO|12/13-PAHSA","DKO|9-OAHSA","DKO|12/13-OAHSA"], "paddingInner": 0, "paddingOuter": 0.63}, "axis": {"labelAngle": -45, "labelAlign": "right", "labelBaseline": "middle", "labelExpr": "indexof(datum.value, '|') < 0 ? '' : split(datum.value, '|')[1]", "tickOpacity": {"condition": {"test": "indexof(datum.value, '|') < 0", "value": 0}, "value": 1}}},
  "y": {"type": "quantitative", "scale": {"domain": [0, 20], "nice": false}, "title": ["Liver", "fold change (KO or DKO/WT)"]}},
 "layer": [
  {"data": {"name": "bars"}, "transform": [{"filter": "datum.p === 'E'"}], "mark": "bar", "encoding": {"y": {"field": "m", "type": "quantitative"}, "fill": {"field": "g", "type": "nominal", "scale": {"domain": ["Aig1-KO","Adtrp-KO","DKO"], "range": ["#f03a1e","#0a42e6","#a436f2"]}, "legend": {"labelFontStyle": {"expr": "datum.label === 'DKO' ? 'normal' : 'italic'"}, "encode": {"labels": {"update": {"fontStyle": {"signal": "datum.label === 'DKO' ? 'normal' : 'italic'"}}}}}}}},
  {"data": {"name": "bars"}, "transform": [{"filter": "datum.p === 'E'"}], "mark": {"type": "errorbar", "color": "black", "thickness": 1.5, "ticks": {"size": 8}}, "encoding": {"y": {"field": "lo", "type": "quantitative"}, "y2": {"field": "hi"}}},
  {"data": {"name": "pts"}, "transform": [{"filter": "datum.p === 'E' && datum.g === 'Aig1-KO'"}], "mark": {"type": "point", "shape": "circle"}, "encoding": {"xOffset": {"field": "r", "type": "nominal", "scale": {"domain": [1,2,3,4,5], "paddingOuter": 1.5}}, "y": {"field": "v", "type": "quantitative"}}},
  {"data": {"name": "pts"}, "transform": [{"filter": "datum.p === 'E' && datum.g === 'Adtrp-KO'"}], "mark": {"type": "point", "shape": "square"}, "encoding": {"xOffset": {"field": "r", "type": "nominal", "scale": {"domain": [1,2,3,4,5], "paddingOuter": 1.5}}, "y": {"field": "v", "type": "quantitative"}}},
  {"data": {"name": "pts"}, "transform": [{"filter": "datum.p === 'E' && datum.g === 'DKO'"}], "mark": {"type": "point", "shape": "triangle-up"}, "encoding": {"xOffset": {"field": "r", "type": "nominal", "scale": {"domain": [1,2,3,4,5], "paddingOuter": 1.5}}, "y": {"field": "v", "type": "quantitative"}}},
  {"data": {"name": "bars"}, "transform": [{"filter": "datum.p === 'E'"}], "mark": "text", "encoding": {"y": {"field": "hi", "type": "quantitative"}, "text": {"field": "sig"}}}
 ]},
{"width": 280, "height": 180, "title": {"text": "F", "offset": -4},
 "encoding": {"x": {"field": "k", "type": "nominal", "title": null, "scale": {"type": "band", "domain": ["Aig1-KO|9-PAHSA","Aig1-KO|12/13-PAHSA","Aig1-KO|9-OAHSA","gap1","Adtrp-KO|9-PAHSA","Adtrp-KO|12/13-PAHSA","Adtrp-KO|9-OAHSA","gap2","DKO|9-PAHSA","DKO|12/13-PAHSA","DKO|9-OAHSA"], "paddingInner": 0, "paddingOuter": 0.6}, "axis": {"labelAngle": -45, "labelAlign": "right", "labelBaseline": "middle", "labelExpr": "indexof(datum.value, '|') < 0 ? '' : split(datum.value, '|')[1]", "tickOpacity": {"condition": {"test": "indexof(datum.value, '|') < 0", "value": 0}, "value": 1}}},
  "y": {"type": "quantitative", "scale": {"domain": [0, 20], "nice": false}, "title": ["Plasma", "fold change (KO or DKO/WT)"]}},
 "layer": [
  {"data": {"name": "bars"}, "transform": [{"filter": "datum.p === 'F'"}], "mark": {"type": "bar", "width": 16}, "encoding": {"y": {"field": "m", "type": "quantitative"}, "fill": {"field": "g", "type": "nominal", "scale": {"domain": ["Aig1-KO","Adtrp-KO","DKO"], "range": ["#f03a1e","#0a42e6","#a436f2"]}, "legend": {"labelFontStyle": {"expr": "datum.label === 'DKO' ? 'normal' : 'italic'"}, "encode": {"labels": {"update": {"fontStyle": {"signal": "datum.label === 'DKO' ? 'normal' : 'italic'"}}}}}}}},
  {"data": {"name": "bars"}, "transform": [{"filter": "datum.p === 'F'"}], "mark": {"type": "errorbar", "color": "black", "thickness": 1.5, "ticks": {"size": 8}}, "encoding": {"y": {"field": "lo", "type": "quantitative"}, "y2": {"field": "hi"}}},
  {"data": {"name": "pts"}, "transform": [{"filter": "datum.p === 'F' && datum.g === 'Aig1-KO'"}], "mark": {"type": "point", "shape": "circle"}, "encoding": {"xOffset": {"field": "r", "type": "nominal", "scale": {"domain": [1,2,3,4,5], "paddingOuter": 1.5}}, "y": {"field": "v", "type": "quantitative"}}},
  {"data": {"name": "pts"}, "transform": [{"filter": "datum.p === 'F' && datum.g === 'Adtrp-KO'"}], "mark": {"type": "point", "shape": "square"}, "encoding": {"xOffset": {"field": "r", "type": "nominal", "scale": {"domain": [1,2,3,4,5], "paddingOuter": 1.5}}, "y": {"field": "v", "type": "quantitative"}}},
  {"data": {"name": "pts"}, "transform": [{"filter": "datum.p === 'F' && datum.g === 'DKO'"}], "mark": {"type": "point", "shape": "triangle-up"}, "encoding": {"xOffset": {"field": "r", "type": "nominal", "scale": {"domain": [1,2,3,4,5], "paddingOuter": 1.5}}, "y": {"field": "v", "type": "quantitative"}}},
  {"data": {"name": "bars"}, "transform": [{"filter": "datum.p === 'F'"}], "mark": "text", "encoding": {"y": {"field": "hi", "type": "quantitative"}, "text": {"field": "sig"}}}
 ]}
], "spacing": 47}
], "spacing": 28
}
